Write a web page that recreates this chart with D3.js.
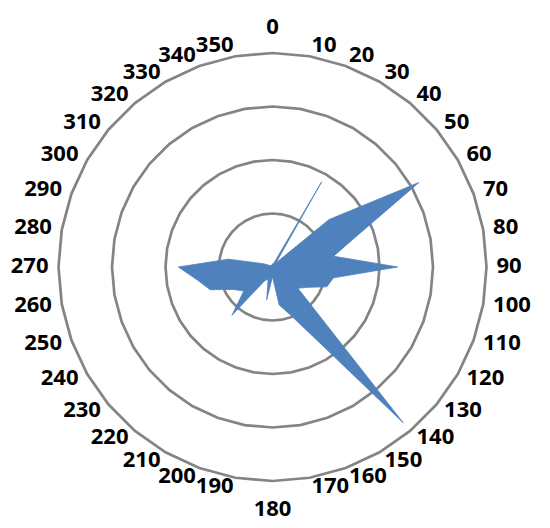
<!DOCTYPE html>
<html><head><meta charset="utf-8">
<script src="https://cdn.jsdelivr.net/npm/d3@7"></script>
<style>html,body{margin:0;padding:0;background:#fff;}</style>
</head><body>
<svg id="chart" width="550" height="528"></svg>
<script>
const categories = d3.range(0, 360, 10);
const values = [0.3,0.3,0.4,9.2,0.5,6.9,15.8,8.3,5.8,11.7,5.8,5.4,3.8,3.1,19.0,7.4,4.7,3.6,
                0.9,3.1,1.2,1.5,5.9,3.5,4.2,6.2,7.1,8.8,4.2,0.9,0.3,0.2,0.2,0.2,0.2,0.2];
const gridValues = [5, 10, 15, 20];
const tickLabels = categories.map(String);

const svg = d3.select("#chart");
const cx = 272.5, cy = 267, R = 214;
const r = d3.scaleLinear().domain([0, 20]).range([0, R]);
const angle = d3.scaleLinear().domain([0, 360]).range([0, 2 * Math.PI]);
const g = svg.append("g").attr("transform", `translate(${cx},${cy})`);

const radial = d3.lineRadial().curve(d3.curveLinearClosed);

// grid rings (36-gons)
g.selectAll("path.grid").data(gridValues).join("path")
  .attr("class", "grid")
  .attr("d", v => radial.angle(d => angle(d)).radius(r(v))(categories))
  .attr("fill", "none").attr("stroke", "#848484").attr("stroke-width", 2.7);

// data area
const area = d3.lineRadial()
  .angle((d, i) => angle(categories[i]))
  .radius(d => r(d))
  .curve(d3.curveLinearClosed);
g.append("path").datum(values).attr("d", area)
  .attr("fill", "#4F81BD").attr("stroke", "#4F81BD").attr("stroke-width", 0.8)
  .attr("stroke-linejoin", "miter");

// category labels
const labR = R + 10;
g.selectAll("text.lab").data(categories).join("text")
  .attr("class", "lab")
  .text((d, i) => tickLabels[i])
  .attr("font-family", "'Open Sans', sans-serif")
  .attr("font-weight", 700)
  .attr("font-size", 22)
  .attr("fill", "#000")
  .each(function(d) {
    const a = angle(d);
    const s = Math.sin(a), c = Math.cos(a);
    let x, yc, anchor;
    if (d === 0 || d === 180) {
      x = 0; yc = -c * (labR + 17); anchor = "middle";
    } else {
      x = s * labR; yc = -c * labR - 2; anchor = s > 0 ? "start" : "end";
    }
    d3.select(this).attr("x", x).attr("y", yc + 7.9).attr("text-anchor", anchor);
  });
</script>
</body></html>
